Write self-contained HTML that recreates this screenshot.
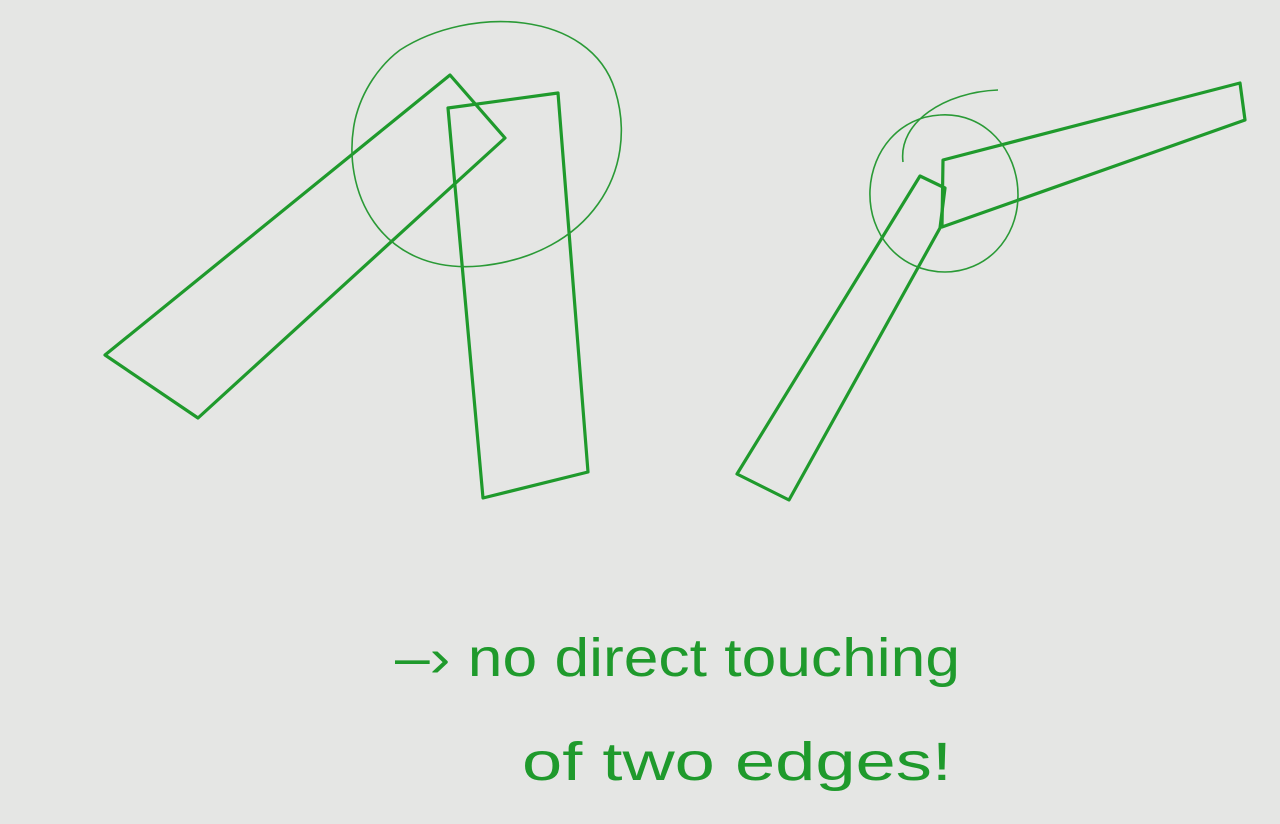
<!DOCTYPE html>
<html><head><meta charset="utf-8"><style>
html,body{margin:0;padding:0;background:#e5e6e4;}
svg{display:block}
</style></head><body>
<svg width="1280" height="824" viewBox="0 0 1280 824">
<rect width="1280" height="824" fill="#e5e6e4"/>
<g fill="none" stroke="#1f9a2c" stroke-width="3.2" stroke-linejoin="round" stroke-linecap="round">
  <path d="M105,355 L450,75 L505,138 L198,418 Z"/>
  <path d="M448,108 L558,93 L588,472 L483,498 Z"/>
  <path d="M737,474 L920,176 L945,188 L940,228 L789,500 Z"/>
  <path d="M943,160 L1240,83 L1245,120 L942,227 Z"/>
</g>
<g fill="none" stroke="#2a9a36" stroke-width="1.6">
  <path d="M400,50 C470,5 590,10 615,90 C640,170 590,255 480,266 C380,275 340,190 355,120 C362,90 380,65 400,50"/>
  <path d="M940,115 C985,112 1018,150 1018,195 C1018,240 985,272 945,272 C900,272 868,235 870,190 C872,150 900,117 940,115"/>
  <path d="M903,162 C898,122 945,92 998,90"/>
</g>
<g fill="#1f9a2c" font-family="'Liberation Sans','DejaVu Sans',sans-serif" font-size="54">
  <text x="395" y="676" textLength="565" lengthAdjust="spacingAndGlyphs">–› no direct touching</text>
  <text x="522" y="780" textLength="430" lengthAdjust="spacingAndGlyphs">of two edges!</text>
</g>
</svg>
</body></html>
